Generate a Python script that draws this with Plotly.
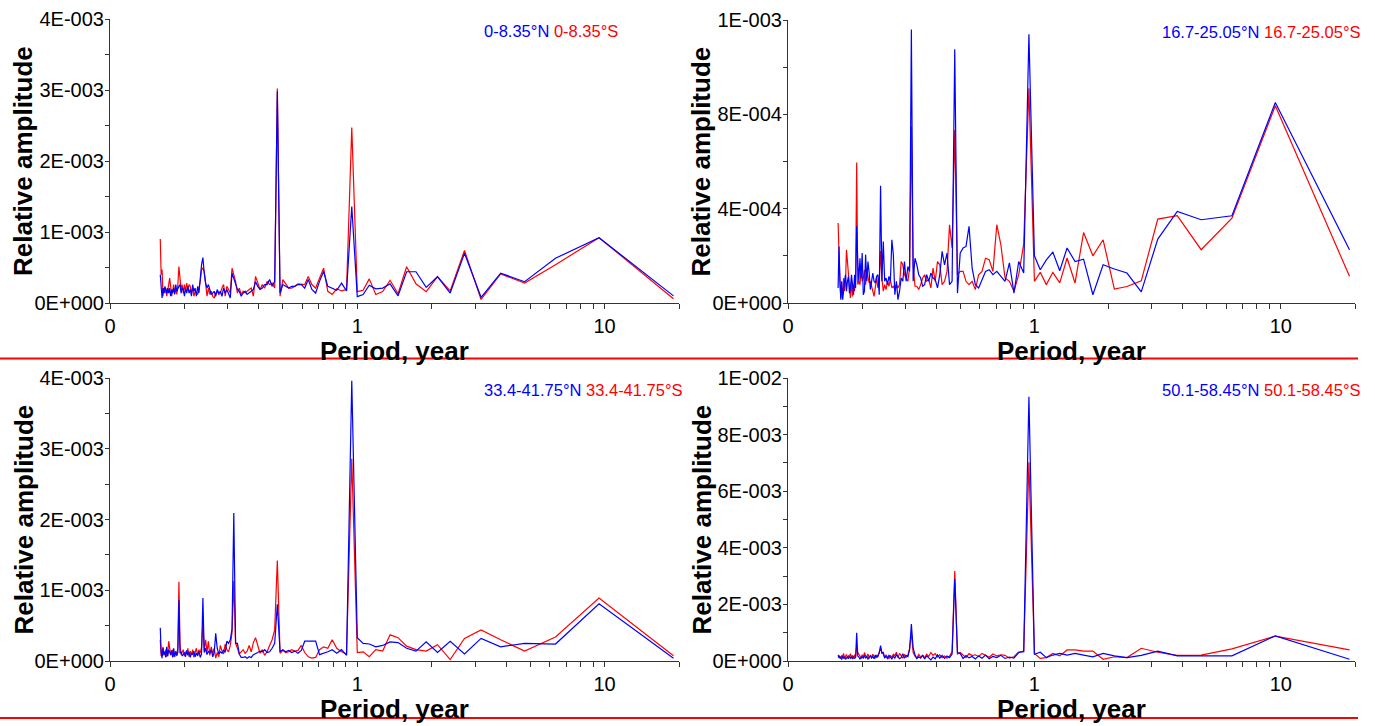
import math
import plotly.graph_objects as go

# Period (years) of each spectral component
periods = [19.0, 9.5, 6.333, 4.75, 3.8, 3.167, 2.714, 2.375, 2.111, 1.9,
           1.727, 1.583, 1.462, 1.357, 1.267, 1.188, 1.118, 1.056, 1.0, 0.95,
           0.9048, 0.8636, 0.8261, 0.7917, 0.76, 0.7308, 0.7037, 0.6786, 0.6552, 0.6333,
           0.6129, 0.5938, 0.5758, 0.5588, 0.5429, 0.5278, 0.5135, 0.5, 0.4872, 0.475,
           0.4634, 0.4524, 0.4419, 0.4318, 0.4222, 0.413, 0.4043, 0.3958, 0.3878, 0.38,
           0.3725, 0.3654, 0.3585, 0.3519, 0.3455, 0.3393, 0.3333, 0.3276, 0.322, 0.3167,
           0.3115, 0.3065, 0.3016, 0.2969, 0.2923, 0.2879, 0.2836, 0.2794, 0.2754, 0.2714,
           0.2676, 0.2639, 0.2603, 0.2568, 0.2533, 0.25, 0.2468, 0.2436, 0.2405, 0.2375,
           0.2346, 0.2317, 0.2289, 0.2262, 0.2235, 0.2209, 0.2184, 0.2159, 0.2135, 0.2111,
           0.2088, 0.2065, 0.2043, 0.2021, 0.2, 0.1979, 0.1959, 0.1939, 0.1919, 0.19,
           0.1881, 0.1863, 0.1845, 0.1827, 0.181, 0.1792, 0.1776, 0.1759, 0.1743, 0.1727,
           0.1712, 0.1696, 0.1681, 0.1667, 0.1652, 0.1638, 0.1624, 0.161, 0.1597]

# Panel 1: 0-8.35 deg (values in units of 1E-003)
p1_north = [0.10, 0.92, 0.63, 0.30, 0.42, 0.08, 0.70, 0.14, 0.37, 0.22,
            0.44, 0.44, 0.10, 0.27, 0.21, 0.20, 0.25, 0.12, 0.09, 1.36,
            0.17, 0.28, 0.18, 0.21, 0.235, 0.445, 0.305, 0.14, 0.19, 0.33,
            0.21, 0.26, 0.26, 0.235, 0.235, 0.21, 0.235, 0.26, 0.14, 2.98,
            0.305, 0.235, 0.33, 0.26, 0.26, 0.21, 0.19, 0.235, 0.30, 0.19,
            0.165, 0.14, 0.12, 0.165, 0.14, 0.095, 0.165, 0.19, 0.26, 0.33,
            0.42, 0.07, 0.12, 0.19, 0.14, 0.21, 0.095, 0.165, 0.14, 0.19,
            0.095, 0.165, 0.14, 0.12, 0.19, 0.26, 0.21, 0.28, 0.42, 0.64,
            0.54, 0.26, 0.14, 0.235, 0.095, 0.21, 0.165, 0.26, 0.095, 0.19,
            0.14, 0.235, 0.14, 0.21, 0.095, 0.19, 0.21, 0.14, 0.26, 0.235,
            0.19, 0.165, 0.26, 0.12, 0.21, 0.14, 0.19, 0.095, 0.21, 0.14,
            0.21, 0.14, 0.19, 0.235, 0.14, 0.21, 0.07, 0.26, 0.40]
p1_south = [0.06, 0.92, 0.54, 0.28, 0.41, 0.05, 0.74, 0.17, 0.37, 0.16,
            0.27, 0.51, 0.13, 0.32, 0.16, 0.12, 0.34, 0.18, 0.16, 2.47,
            0.19, 0.17, 0.20, 0.12, 0.165, 0.49, 0.35, 0.21, 0.26, 0.375,
            0.26, 0.26, 0.27, 0.235, 0.21, 0.21, 0.27, 0.33, 0.095, 3.02,
            0.21, 0.28, 0.26, 0.305, 0.21, 0.26, 0.19, 0.28, 0.375, 0.095,
            0.21, 0.19, 0.165, 0.14, 0.165, 0.12, 0.21, 0.14, 0.305, 0.40,
            0.49, 0.14, 0.19, 0.235, 0.095, 0.26, 0.21, 0.14, 0.12, 0.165,
            0.14, 0.07, 0.095, 0.165, 0.12, 0.21, 0.095, 0.235, 0.445, 0.49,
            0.47, 0.305, 0.21, 0.12, 0.14, 0.165, 0.095, 0.21, 0.14, 0.235,
            0.26, 0.19, 0.28, 0.165, 0.26, 0.14, 0.26, 0.19, 0.35, 0.515,
            0.26, 0.12, 0.21, 0.14, 0.26, 0.19, 0.095, 0.235, 0.35, 0.26,
            0.19, 0.095, 0.21, 0.14, 0.21, 0.095, 0.47, 0.40, 0.90]

# Panel 2: 16.7-25.05 deg (values in units of 1E-004)
p2_north = [2.26, 8.5, 3.70, 3.53, 3.88, 2.71, 0.47, 1.27, 1.44, 1.62,
            0.35, 1.86, 1.76, 2.33, 1.37, 2.16, 1.83, 1.41, 2.0, 11.4,
            1.27, 1.76, 0.42, 1.70, 0.92, 1.13, 1.34, 1.20, 1.41, 1.34,
            0.99, 0.64, 0.78, 1.48, 3.25, 2.40, 2.33, 2.12, 0.42, 10.76,
            0.92, 0.78, 2.12, 1.62, 2.19, 1.20, 0.64, 0.99, 1.06, 1.27,
            0.92, 1.20, 0.78, 0.71, 1.06, 1.20, 1.62, 1.90, 0.92, 11.6,
            1.34, 1.55, 0.92, 1.76, 0.92, 1.06, 0.50, 0.14, 0.92, 0.35,
            2.05, 2.68, 0.92, 1.13, 0.78, 1.06, 0.92, 2.61, 0.92, 4.97,
            0.35, 1.20, 1.13, 0.85, 0.92, 1.27, 0.92, 0.57, 1.27, 1.76,
            0.92, 2.05, 0.50, 0.35, 2.12, 1.06, 1.90, 0.92, 1.76, 3.25,
            0.64, 1.20, 0.35, 0.92, 1.20, 0.64, 0.42, 1.13, 0.92, 0.50,
            1.20, 0.92, 0.50, 0.14, 0.92, 0.14, 1.06, 2.40, 0.64]
p2_south = [1.13, 8.36, 3.6, 2.26, 3.70, 3.56, 0.94, 0.70, 0.59, 2.68,
            2.0, 2.99, 0.85, 1.91, 0.85, 1.30, 0.78, 1.30, 0.92, 9.1,
            2.5, 1.2, 0.5, 0.92, 1.06, 2.47, 3.32, 1.34, 1.84, 1.90,
            1.34, 1.20, 0.57, 0.92, 0.78, 0.92, 1.34, 1.34, 1.20, 7.34,
            2.33, 3.32, 1.34, 0.92, 0.78, 1.62, 1.76, 0.92, 1.48, 0.64,
            0.99, 0.92, 1.20, 1.06, 0.78, 0.57, 0.71, 0.71, 1.62, 7.48,
            1.48, 0.92, 1.06, 1.20, 1.62, 1.76, 0.78, 0.64, 0.78, 0.57,
            0.71, 0.64, 0.99, 0.71, 0.92, 0.57, 0.78, 0.50, 1.06, 2.2,
            0.92, 0.64, 1.06, 0.57, 0.28, 0.50, 0.71, 0.92, 0.85, 1.13,
            1.34, 0.78, 1.41, 1.06, 0.92, 1.34, 0.78, 0.92, 0.78, 5.96,
            1.06, 0.50, 0.78, 0.28, 0.92, 0.21, 0.71, 0.92, 1.48, 2.26,
            0.92, 0.50, 1.06, 0.35, 0.64, 0.21, 0.92, 2.05, 3.39]

# Panel 3: 33.4-41.75 deg (values in units of 1E-003)
p3_north = [0.04, 0.81, 0.24, 0.25, 0.20, 0.32, 0.10, 0.28, 0.12, 0.27,
            0.14, 0.18, 0.26, 0.27, 0.22, 0.20, 0.24, 0.25, 0.33, 3.96,
            0.08, 0.16, 0.11, 0.16, 0.13, 0.11, 0.09, 0.28, 0.28, 0.27,
            0.28, 0.15, 0.11, 0.14, 0.12, 0.15, 0.13, 0.16, 0.13, 0.80,
            0.25, 0.18, 0.13, 0.12, 0.16, 0.13, 0.14, 0.12, 0.11, 0.09,
            0.05, 0.06, 0.04, 0.06, 0.05, 0.05, 0.10, 0.25, 0.25, 2.09,
            0.45, 0.30, 0.25, 0.28, 0.12, 0.16, 0.11, 0.13, 0.10, 0.18,
            0.39, 0.12, 0.06, 0.16, 0.11, 0.14, 0.09, 0.18, 0.12, 0.89,
            0.10, 0.05, 0.14, 0.08, 0.11, 0.06, 0.14, 0.09, 0.11, 0.05,
            0.13, 0.08, 0.15, 0.06, 0.12, 0.09, 0.07, 0.13, 0.11, 0.86,
            0.12, 0.08, 0.13, 0.06, 0.18, 0.05, 0.15, 0.09, 0.14, 0.16,
            0.07, 0.20, 0.05, 0.13, 0.09, 0.18, 0.04, 0.13, 0.47]
p3_south = [0.075, 0.89, 0.34, 0.14, 0.30, 0.44, 0.32, 0.02, 0.23, 0.14,
            0.16, 0.21, 0.33, 0.37, 0.14, 0.16, 0.06, 0.13, 0.12, 2.86,
            0.10, 0.13, 0.18, 0.30, 0.18, 0.20, 0.16, 0.05, 0.04, 0.06,
            0.12, 0.22, 0.15, 0.14, 0.16, 0.13, 0.12, 0.15, 0.11, 1.42,
            0.44, 0.30, 0.22, 0.13, 0.08, 0.16, 0.11, 0.22, 0.33, 0.26,
            0.13, 0.22, 0.14, 0.11, 0.16, 0.13, 0.10, 0.18, 0.25, 1.13,
            0.40, 0.22, 0.13, 0.16, 0.24, 0.10, 0.14, 0.22, 0.06, 0.12,
            0.04, 0.18, 0.10, 0.20, 0.08, 0.28, 0.13, 0.30, 0.15, 0.54,
            0.20, 0.11, 0.16, 0.07, 0.18, 0.12, 0.05, 0.16, 0.09, 0.14,
            0.06, 0.18, 0.10, 0.13, 0.07, 0.16, 0.11, 0.09, 0.24, 1.12,
            0.20, 0.07, 0.14, 0.10, 0.06, 0.16, 0.12, 0.08, 0.19, 0.28,
            0.10, 0.06, 0.16, 0.12, 0.08, 0.20, 0.11, 0.07, 0.30]

# Panel 4: 50.1-58.45 deg (values in units of 1E-003)
p4_north = [0.06, 0.89, 0.18, 0.18, 0.18, 0.35, 0.20, 0.12, 0.18, 0.27,
            0.15, 0.21, 0.27, 0.21, 0.27, 0.21, 0.12, 0.31, 0.24, 9.34,
            0.33, 0.30, 0.10, 0.14, 0.09, 0.20, 0.12, 0.16, 0.08, 0.21,
            0.10, 0.18, 0.07, 0.16, 0.11, 0.19, 0.09, 0.27, 0.30, 2.90,
            0.25, 0.12, 0.18, 0.09, 0.20, 0.10, 0.22, 0.08, 0.14, 0.04,
            0.12, 0.18, 0.07, 0.21, 0.10, 0.15, 0.09, 0.22, 0.45, 1.31,
            0.40, 0.15, 0.20, 0.10, 0.26, 0.12, 0.08, 0.15, 0.22, 0.10,
            0.17, 0.07, 0.14, 0.20, 0.09, 0.16, 0.12, 0.30, 0.27, 0.54,
            0.28, 0.18, 0.12, 0.21, 0.08, 0.16, 0.10, 0.19, 0.13, 0.07,
            0.15, 0.11, 0.20, 0.09, 0.16, 0.12, 0.07, 0.14, 0.18, 1.00,
            0.12, 0.10, 0.16, 0.07, 0.14, 0.10, 0.18, 0.08, 0.13, 0.11,
            0.06, 0.15, 0.09, 0.18, 0.05, 0.13, 0.09, 0.20, 0.12]
p4_south = [0.39, 0.88, 0.43, 0.21, 0.20, 0.31, 0.45, 0.12, 0.15, 0.06,
            0.35, 0.35, 0.39, 0.39, 0.18, 0.27, 0.12, 0.09, 0.27, 7.02,
            0.35, 0.32, 0.15, 0.10, 0.20, 0.22, 0.18, 0.25, 0.13, 0.21,
            0.27, 0.16, 0.22, 0.19, 0.26, 0.12, 0.21, 0.30, 0.25, 3.18,
            0.33, 0.17, 0.10, 0.18, 0.12, 0.22, 0.14, 0.26, 0.20, 0.30,
            0.16, 0.24, 0.11, 0.19, 0.14, 0.23, 0.10, 0.17, 0.30, 1.00,
            0.45, 0.20, 0.14, 0.24, 0.10, 0.18, 0.27, 0.12, 0.31, 0.19,
            0.24, 0.13, 0.20, 0.08, 0.16, 0.22, 0.11, 0.25, 0.30, 0.45,
            0.32, 0.14, 0.21, 0.10, 0.17, 0.24, 0.13, 0.20, 0.09, 0.25,
            0.14, 0.19, 0.30, 0.12, 0.22, 0.08, 0.18, 0.24, 0.30, 0.50,
            0.15, 0.22, 0.09, 0.20, 0.12, 0.26, 0.14, 0.18, 0.11, 0.23,
            0.16, 0.09, 0.27, 0.13, 0.20, 0.10, 0.17, 0.12, 0.22]

panel_units = [1e-3, 1e-4, 1e-3, 1e-3]
north_labels = ["0-8.35°N", "16.7-25.05°N", "33.4-41.75°N", "50.1-58.45°N"]
south_labels = ["0-8.35°S", "16.7-25.05°S", "33.4-41.75°S", "50.1-58.45°S"]

y_ranges = [[0, 4e-3], [0, 1.2e-3], [0, 4e-3], [0, 1e-2]]
y_tickvals = [[0, 1e-3, 2e-3, 3e-3, 4e-3],
              [0, 4e-4, 8e-4, 1.2e-3],
              [0, 1e-3, 2e-3, 3e-3, 4e-3],
              [0, 2e-3, 4e-3, 6e-3, 8e-3, 1e-2]]
y_ticktext = [["0E+000", "1E-003", "2E-003", "3E-003", "4E-003"],
              ["0E+000", "4E-004", "8E-004", "1E-003"],
              ["0E+000", "1E-003", "2E-003", "3E-003", "4E-003"],
              ["0E+000", "2E-003", "4E-003", "6E-003", "8E-003", "1E-002"]]
y_minor = [[0.5e-3, 1.5e-3, 2.5e-3, 3.5e-3],
           [2e-4, 6e-4, 1.0e-3],
           [0.5e-3, 1.5e-3, 2.5e-3, 3.5e-3],
           [1e-3, 3e-3, 5e-3, 7e-3, 9e-3]]
x_tickvals = [0.1, 1, 10]
x_ticktext = ["0", "1", "10"]
x_minor = [0.2, 0.3, 0.4, 0.5, 0.6, 0.7, 0.8, 0.9, 2, 3, 4, 5, 6, 7, 8, 9, 20]

north_series = [p1_north, p2_north, p3_north, p4_north]
south_series = [p1_south, p2_south, p3_south, p4_south]

W, H = 1375, 726
FONT = "Liberation Sans, Arial, sans-serif"
AX = "#333333"

# panel pixel boxes: (left, right, top, bottom)
boxes = [(110, 679, 19, 303), (788, 1355, 20, 303),
         (110, 679, 378, 661), (788, 1355, 378, 661)]

fig = go.Figure()
layout = dict(width=W, height=H, margin=dict(l=0, r=0, t=0, b=0, pad=0, autoexpand=False),
              paper_bgcolor="white", plot_bgcolor="white", showlegend=False,
              font=dict(family=FONT, color="black"))
annotations = []

for i in range(4):
    n = i + 1
    xa = "x" if n == 1 else f"x{n}"
    ya = "y" if n == 1 else f"y{n}"
    u = panel_units[i]
    fig.add_trace(go.Scatter(x=periods, y=[v * u for v in south_series[i]],
                             mode="lines", line=dict(color="#ff0000", width=1.2),
                             xaxis=xa, yaxis=ya, name=south_labels[i]))
    fig.add_trace(go.Scatter(x=periods, y=[v * u for v in north_series[i]],
                             mode="lines", line=dict(color="#0000ff", width=1.2),
                             xaxis=xa, yaxis=ya, name=north_labels[i]))
    l, r, t, b = boxes[i]
    xdom = [l / W, r / W]
    ydom = [1 - b / H, 1 - t / H]
    layout["xaxis" if n == 1 else f"xaxis{n}"] = dict(
        type="log", range=[-1, math.log10(20)], domain=xdom, anchor=ya,
        automargin=False,
        showline=True, linecolor=AX, linewidth=1, mirror=False,
        ticks="outside", ticklen=5, tickcolor=AX, tickwidth=1,
        tickmode="array", tickvals=x_tickvals, ticktext=x_ticktext,
        tickfont=dict(size=20, family=FONT, color="black"),
        showgrid=False, zeroline=False,
        minor=dict(tickmode="array", tickvals=x_minor, ticks="outside",
                   ticklen=5, tickcolor=AX, showgrid=False))
    layout["yaxis" if n == 1 else f"yaxis{n}"] = dict(
        range=y_ranges[i], domain=ydom, anchor=xa,
        automargin=False,
        showline=True, linecolor=AX, linewidth=1,
        ticks="outside", ticklen=4, tickcolor=AX, tickwidth=1,
        ticklabelstandoff=-3,
        tickmode="array", tickvals=y_tickvals[i], ticktext=y_ticktext[i],
        tickfont=dict(size=20, family=FONT, color="black"),
        showgrid=False, zeroline=False,
        minor=dict(tickmode="array", tickvals=y_minor[i], ticks="outside",
                   ticklen=4, tickcolor=AX, showgrid=False))
    # axis titles
    annotations.append(dict(text="<b>Relative amplitude</b>", textangle=-90,
                            xref="paper", yref="paper", x=(l - 87) / W,
                            y=1 - (t + b) / 2 / H, xanchor="center", yanchor="middle",
                            showarrow=False, font=dict(size=26, family=FONT, color="black")))
    annotations.append(dict(text="<b>Period, year</b>", xref="paper", yref="paper",
                            x=(l + r) / 2 / W, y=1 - (b + 48) / H,
                            xanchor="center", yanchor="middle", showarrow=False,
                            font=dict(size=26, family=FONT, color="black")))
    annotations.append(dict(text=f"<span style='color:#0000ff'>{north_labels[i]}</span> "
                                 f"<span style='color:#ff0000'>{south_labels[i]}</span>",
                            xref="paper", yref="paper", x=(l + 372) / W,
                            y=1 - (t + 12) / H, xanchor="left", yanchor="middle",
                            showarrow=False, font=dict(size=16.5, family=FONT)))

layout["annotations"] = annotations
layout["shapes"] = [
    dict(type="line", xref="paper", yref="paper", x0=0, x1=1358 / W,
         y0=1 - 358.5 / H, y1=1 - 358.5 / H, line=dict(color="#ff0000", width=2)),
    dict(type="line", xref="paper", yref="paper", x0=0, x1=1358 / W,
         y0=1 - 718 / H, y1=1 - 718 / H, line=dict(color="#ff0000", width=2)),
]
fig.update_layout(**layout)
fig.write_html("out.html", config={"displayModeBar": False},
               post_script="document.body.style.margin='0';document.body.style.padding='0';")
